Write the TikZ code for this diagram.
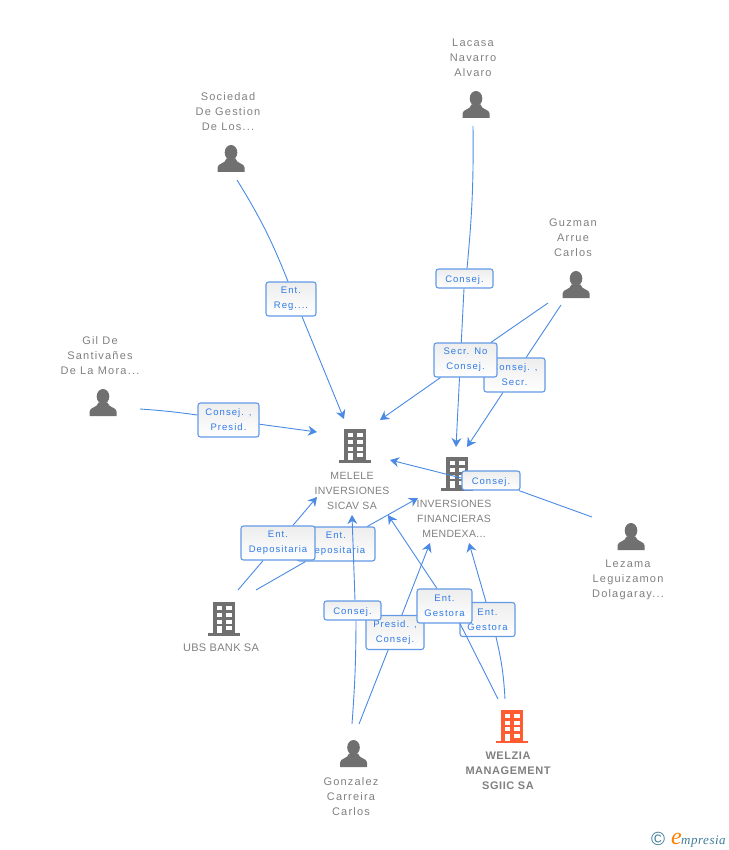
\documentclass[tikz,border=0pt]{standalone}
\usepackage{fontspec}
\usetikzlibrary{arrows.meta}
\setmainfont{Liberation Sans}
\newfontfamily\personfont[LetterSpace=11]{Liberation Sans}
\newfontfamily\companyfont[LetterSpace=3]{Liberation Sans}
\newfontfamily\boldfont[LetterSpace=5]{Liberation Sans Bold}
\newfontfamily\relfont[LetterSpace=11]{Liberation Sans}
\newfontfamily\logofont[LetterSpace=4]{Liberation Serif Italic}
\definecolor{linkblue}{HTML}{4A8AE4}
\definecolor{relblue}{HTML}{2F7BE6}
\definecolor{boxblue}{HTML}{629AE6}
\definecolor{icongray}{HTML}{707070}
\definecolor{labelgray}{HTML}{808080}
\definecolor{mainorange}{HTML}{FF5C33}
\definecolor{logoblue}{HTML}{3F7C99}
\tikzset{
  pics/person/.style={code={
    \fill[#1] (0,-6) ellipse [x radius=6.3,y radius=7.5];
    \fill[#1] (-13.5,13.5) -- (-13.5,9) .. controls (-13.5,4.5) and (-5.5,5.5) .. (-4.5,0) -- (4.5,0) .. controls (5.5,5.5) and (13.5,4.5) .. (13.5,9) -- (13.5,13.5) -- cycle;
  }},
  pics/building/.style={code={
    \fill[#1] (-11,-16.5) rectangle (11,15);
    \fill[#1] (-16,14.5) rectangle (16,17);
    \foreach \rowy in {-12.2,-5.5,1.2} {
      \fill[white] (-7.5,\rowy) rectangle (-2.5,\rowy+4);
      \fill[white] (2,\rowy) rectangle (7.5,\rowy+4);
    }
    \fill[white] (-7.5,7.7) rectangle (-2.5,14.5);
    \fill[white] (2,7.7) rectangle (7.5,11.7);
  }},
  person/.style={text=labelgray,align=center,inner sep=0pt,font=\personfont\fontsize{11}{15}\selectfont},
  company/.style={text=labelgray,align=center,inner sep=0pt,font=\companyfont\fontsize{10.5}{15}\selectfont},
  maincompany/.style={text=labelgray,align=center,inner sep=0pt,font=\boldfont\fontsize{11}{15}\selectfont},
  relbox/.style={draw=boxblue,line width=1.1pt,rounded corners=2.5pt,top color=black!7,bottom color=white,
    text=relblue,align=center,inner sep=0pt,minimum width=#1,minimum height=34pt,font=\relfont\fontsize{9.5}{15}\selectfont,
    execute at begin node={\rule{0pt}{10.5pt}}},
  relsmall/.style={relbox=#1,minimum height=19pt},
  every edge/.style={draw=linkblue,line width=.9pt},
  >={Stealth[length=9pt,width=10pt,inset=3pt]}
}
\begin{document}
\begin{tikzpicture}[x=1pt,y=-1pt]
  \useasboundingbox (0,0) rectangle (728,850);

  \pic at (476,104.5) {person=icongray};
  \pic at (231,158.5) {person=icongray};
  \pic at (576,284.5) {person=icongray};
  \pic at (103,402.5) {person=icongray};
  \pic at (631,536.5) {person=icongray};
  \pic at (353.5,753.5) {person=icongray};
  \pic at (355,445.5) {building=icongray};
  \pic at (457,473.5) {building=icongray};
  \pic at (224,618.5) {building=icongray};
  \pic at (512,726) {building=mainorange};

  \node[person] (lacasa) at (473,58) {Lacasa\\Navarro\\Alvaro};
  \node[person] (sociedad) at (228,112) {Sociedad\\De Gestion\\De Los...};
  \node[person] (guzman) at (573,238) {Guzman\\Arrue\\Carlos};
  \node[person] (gil) at (100,356) {Gil De\\Santivañes\\De La Mora...};
  \node[person] (lezama) at (628,580) {Lezama\\Leguizamon\\Dolagaray...};
  \node[person] (gonzalez) at (351,797) {Gonzalez\\Carreira\\Carlos};
  \node[company] (melele) at (352,491) {MELELE\\INVERSIONES\\SICAV SA};
  \node[company] (mendexa) at (454,519) {INVERSIONES\\FINANCIERAS\\MENDEXA...};
  \node[company,font=\companyfont\fontsize{11}{15}\selectfont] (ubs) at (221,648) {UBS BANK SA};
  \node[maincompany] (welzia) at (508,771) {WELZIA\\MANAGEMENT\\SGIIC SA};

  \coordinate (sociedadOut) at (237,180);
  \coordinate (gilOut) at (140,409);
  \coordinate (lacasaOut) at (473,126);
  \coordinate (guzmanOutA) at (548,303);
  \coordinate (guzmanOutB) at (561,305);
  \coordinate (lezamaOut) at (592,517);
  \coordinate (ubsOutA) at (238,590);
  \coordinate (ubsOutB) at (256,590);
  \coordinate (gonzalezOutA) at (352,724);
  \coordinate (gonzalezOutB) at (359,724);
  \coordinate (welziaOutA) at (498,699);
  \coordinate (welziaOutB) at (505,699);
  \coordinate (meleleTop) at (344,419);
  \coordinate (meleleLeft) at (317,432);
  \coordinate (meleleRight) at (380,420);
  \coordinate (meleleSide) at (390,460);
  \coordinate (meleleDown) at (317,497);
  \coordinate (meleleUnder) at (352,515);
  \coordinate (meleleCorner) at (388,515);
  \coordinate (mendexaTopA) at (456,447);
  \coordinate (mendexaTopB) at (467,447);
  \coordinate (mendexaLeft) at (418,498);
  \coordinate (mendexaDownA) at (430,543);
  \coordinate (mendexaDownB) at (469,543);

  \begin{scope}
    \node[relbox=50pt] (entreg) at (291,299) {Ent.\\Reg....};
    \path (sociedadOut) edge [bend left=5] ([xshift=-3pt]entreg.north);
    \path [->] ([xshift=11pt]entreg.south) edge (meleleTop);

    \node[relbox=61pt] (consejpresid) at (228.5,420) {Consej. ,\\Presid.};
    \path (gilOut) edge [bend left=2] (consejpresid);
    \path [->] (consejpresid) edge (meleleLeft);

    \node[relsmall=57pt] (consejlacasa) at (464.5,278.5) {Consej.};
    \path (lacasaOut) edge [bend left=3] ([xshift=2.5pt]consejlacasa.north);
    \path [->] (consejlacasa) edge (mendexaTopA);

    \node[relbox=61pt] (consejsecr) at (514.5,375) {Consej. ,\\Secr.};
    \path (guzmanOutB) edge (consejsecr);
    \path [->] (consejsecr) edge (mendexaTopB);

    \node[relbox=63pt] (secrno) at (465.5,360) {Secr. No\\Consej.};
    \path (guzmanOutA) edge (secrno);
    \path [->] (secrno) edge (meleleRight);

    \node[relsmall=58pt] (consejlezama) at (491,480.5) {Consej.};
    \path (lezamaOut) edge (consejlezama);
    \path [->] ([yshift=2.5pt]consejlezama.west) edge (meleleSide);

    \node[relbox=78pt] (depositb) at (336,544) {Ent.\\Depositaria};
    \path (ubsOutB) edge (depositb);
    \path [->] (depositb) edge (mendexaLeft);

    \node[relbox=74pt] (deposita) at (278,543) {Ent.\\Depositaria};
    \path (ubsOutA) edge (deposita);
    \path [->] (deposita) edge (meleleDown);

    \node[relbox=58pt] (presid) at (395,632.5) {Presid. ,\\Consej.};
    \path (gonzalezOutB) edge (presid);
    \path [->] (presid) edge (mendexaDownA);

    \node[relbox=55pt] (gestorab) at (487.5,619.5) {Ent.\\Gestora};
    \path (welziaOutB) edge [bend right=5] ([xshift=8.5pt]gestorab.south);
    \path [->] ([xshift=-1.5pt]gestorab.north) edge (mendexaDownB);

    \node[relsmall=57pt] (consejgonzalez) at (352.5,610.5) {Consej.};
    \path (gonzalezOutA) edge [bend right=2] ([xshift=3.5pt]consejgonzalez.south);
    \path [->] ([xshift=2.5pt]consejgonzalez.north) edge (meleleUnder);

    \node[relbox=55pt] (gestoraa) at (444.5,606) {Ent.\\Gestora};
    \path (welziaOutA) edge ([xshift=15.5pt]gestoraa.south);
    \path [->] ([xshift=-7.5pt]gestoraa.north) edge (meleleCorner);
  \end{scope}

  \node[inner sep=0pt,text=logoblue,font=\fontsize{19}{19}\selectfont] (copyright) at (658,839) {©};
  \node[anchor=base west,inner sep=0pt,text=orange,font=\logofont\fontsize{24}{24}\selectfont] (logoe) at (671,844) {e};
  \node[anchor=base west,inner sep=0pt,text=logoblue,font=\logofont\fontsize{13}{15}\selectfont] (logotext) at (681,844) {mpresia};
\end{tikzpicture}
\end{document}
